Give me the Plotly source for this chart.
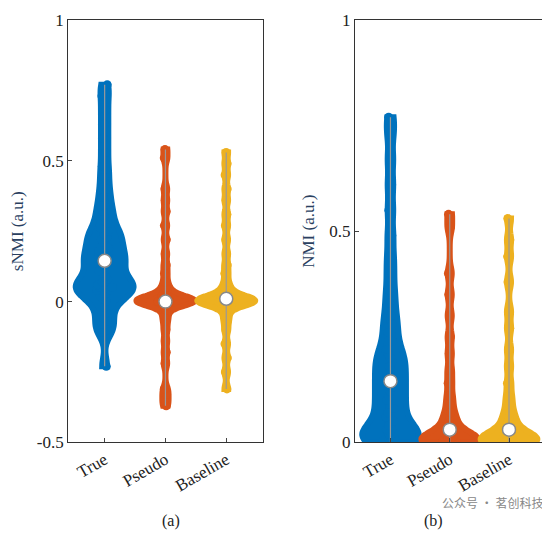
import numpy as np
import plotly.graph_objects as go

groups = ["True", "Pseudo", "Baseline"]
colors = ["#0072BD", "#D95319", "#EDB120"]

# sNMI samples (representative)
snmi_true = [-0.23, -0.11, -0.1, -0.08, -0.06, -0.04, -0.02, 0.0, 0.01, 0.02, 0.03, 0.03, 0.04, 0.04, 0.05, 0.05,
             0.06, 0.06, 0.07, 0.07, 0.08, 0.09, 0.1, 0.11, 0.12, 0.13, 0.14, 0.15, 0.15, 0.16, 0.17, 0.18, 0.19, 0.2,
             0.21, 0.22, 0.23, 0.24, 0.25, 0.26, 0.28, 0.3, 0.32, 0.34, 0.37, 0.4, 0.44, 0.48, 0.53, 0.58, 0.63, 0.68,
             0.73, 0.77]
snmi_pseudo = [-0.37, -0.35, -0.33, -0.31, -0.22, -0.18, -0.14, -0.1, -0.07, -0.05, -0.03, -0.02, -0.01, -0.01, 0.0, 0.0,
               0.0, 0.0, 0.0, 0.0, 0.0, 0.0, 0.0, 0.0, 0.01, 0.01, 0.01, 0.01, 0.01, 0.02, 0.02, 0.03, 0.04, 0.05, 0.07,
               0.1, 0.13, 0.17, 0.22, 0.27, 0.32, 0.36, 0.4, 0.51, 0.54]
snmi_base = [-0.31, -0.25, -0.2, -0.15, -0.1, -0.07, -0.05, -0.03, -0.02, -0.01, -0.01, 0.0, 0.0, 0.0, 0.0, 0.0, 0.0, 0.0,
             0.0, 0.0, 0.01, 0.01, 0.01, 0.01, 0.01, 0.02, 0.02, 0.03, 0.04, 0.05, 0.07, 0.1, 0.13, 0.17, 0.22, 0.27,
             0.31, 0.36, 0.4, 0.45, 0.49, 0.53]
# NMI samples
nmi_true = [0.0, 0.0, 0.0, 0.005, 0.01, 0.01, 0.015, 0.02, 0.02, 0.03, 0.03, 0.04, 0.05, 0.06, 0.07, 0.08, 0.09, 0.1,
            0.11, 0.12, 0.13, 0.14, 0.15, 0.16, 0.17, 0.18, 0.19, 0.2, 0.21, 0.22, 0.24, 0.26, 0.28, 0.3, 0.33, 0.36,
            0.4, 0.44, 0.49, 0.55, 0.61, 0.67, 0.73, 0.77]
nmi_pseudo = [0.0, 0.0, 0.0, 0.0, 0.0, 0.0, 0.0, 0.005, 0.005, 0.01, 0.01, 0.01, 0.015, 0.02, 0.02, 0.03, 0.03, 0.04, 0.05,
              0.06, 0.07, 0.09, 0.11, 0.14, 0.17, 0.21, 0.25, 0.3, 0.35, 0.4, 0.51, 0.54]
nmi_base = [0.0, 0.0, 0.0, 0.0, 0.0, 0.0, 0.0, 0.005, 0.005, 0.01, 0.01, 0.01, 0.015, 0.02, 0.02, 0.03, 0.03, 0.04, 0.05,
            0.06, 0.07, 0.09, 0.11, 0.14, 0.18, 0.22, 0.27, 0.31, 0.38, 0.44, 0.48, 0.53]

panels = [[snmi_true, snmi_pseudo, snmi_base], [nmi_true, nmi_pseudo, nmi_base]]
bws = [[0.03, 0.015, 0.015], [0.025, 0.015, 0.015]]
SERIF = "Liberation Serif, DejaVu Serif, serif"

fig = go.Figure()
for p, data in enumerate(panels):
    xa = "x" if p == 0 else "x2"
    ya = "y" if p == 0 else "y2"
    for g, vals, c, bw in zip(groups, data, colors, bws[p]):
        fig.add_trace(go.Violin(x=[g] * len(vals), y=vals, xaxis=xa, yaxis=ya, fillcolor=c,
                                line=dict(color=c, width=6), points="all", jitter=0.3, pointpos=0,
                                marker=dict(color=c, size=9), spanmode="hard", bandwidth=bw,
                                width=0.95, showlegend=False, hoveron="violins"))
        fig.add_trace(go.Scatter(x=[g, g], y=[min(vals), max(vals)], xaxis=xa, yaxis=ya, mode="lines",
                                 line=dict(color="#999999", width=1.2), showlegend=False))
        fig.add_trace(go.Scatter(x=[g], y=[float(np.median(vals))], xaxis=xa, yaxis=ya, mode="markers",
                                 marker=dict(color="white", size=13, line=dict(color="#888888", width=1.5)),
                                 showlegend=False))

axcommon = dict(showline=True, linecolor="#333", mirror=True, ticks="inside", ticklen=4,
                tickfont=dict(family=SERIF, size=17, color="#222"), showgrid=False, zeroline=False,
                ticklabeloverflow="allow")
fig.update_layout(
    width=542, height=539, plot_bgcolor="white", paper_bgcolor="white",
    margin=dict(l=0, r=0, t=0, b=0),
    xaxis=dict(domain=[0.111, 0.470], tickangle=-30, categoryorder="array", categoryarray=groups,
               range=[-0.6, 2.6], anchor="y", **axcommon),
    xaxis2=dict(domain=[0.640, 0.99], tickangle=-30, categoryorder="array", categoryarray=groups,
                range=[-0.6, 2.6], anchor="y2", **axcommon),
    yaxis=dict(domain=[0.182, 0.994], range=[-0.5, 1], tickvals=[-0.5, 0, 0.5, 1], ticktext=["-0.5", "0", "0.5", "1"],
               anchor="x", title=dict(text="sNMI (a.u.)", font=dict(family=SERIF, size=17), standoff=10), **axcommon),
    yaxis2=dict(domain=[0.182, 0.994], range=[0, 1], tickvals=[0, 0.5, 1], ticktext=["0", "0.5", "1"], anchor="x2",
                title=dict(text="NMI (a.u.)", font=dict(family=SERIF, size=17), standoff=10), **axcommon),
)
fig.add_annotation(text="(a)", x=0.28, y=0.01, xref="paper", yref="paper", showarrow=False, yanchor="bottom",
                   font=dict(family=SERIF, size=16, color="#222"))
fig.add_annotation(text="(b)", x=0.806, y=0.01, xref="paper", yref="paper", showarrow=False, yanchor="bottom",
                   font=dict(family=SERIF, size=16, color="#222"))
fig.add_annotation(text="公众号 · 茗创科技", x=0.99, y=0.046, xref="paper", yref="paper", showarrow=False,
                   xanchor="right", font=dict(family="Noto Sans CJK SC", size=12, color="#888"))
fig.write_html("out.html")
